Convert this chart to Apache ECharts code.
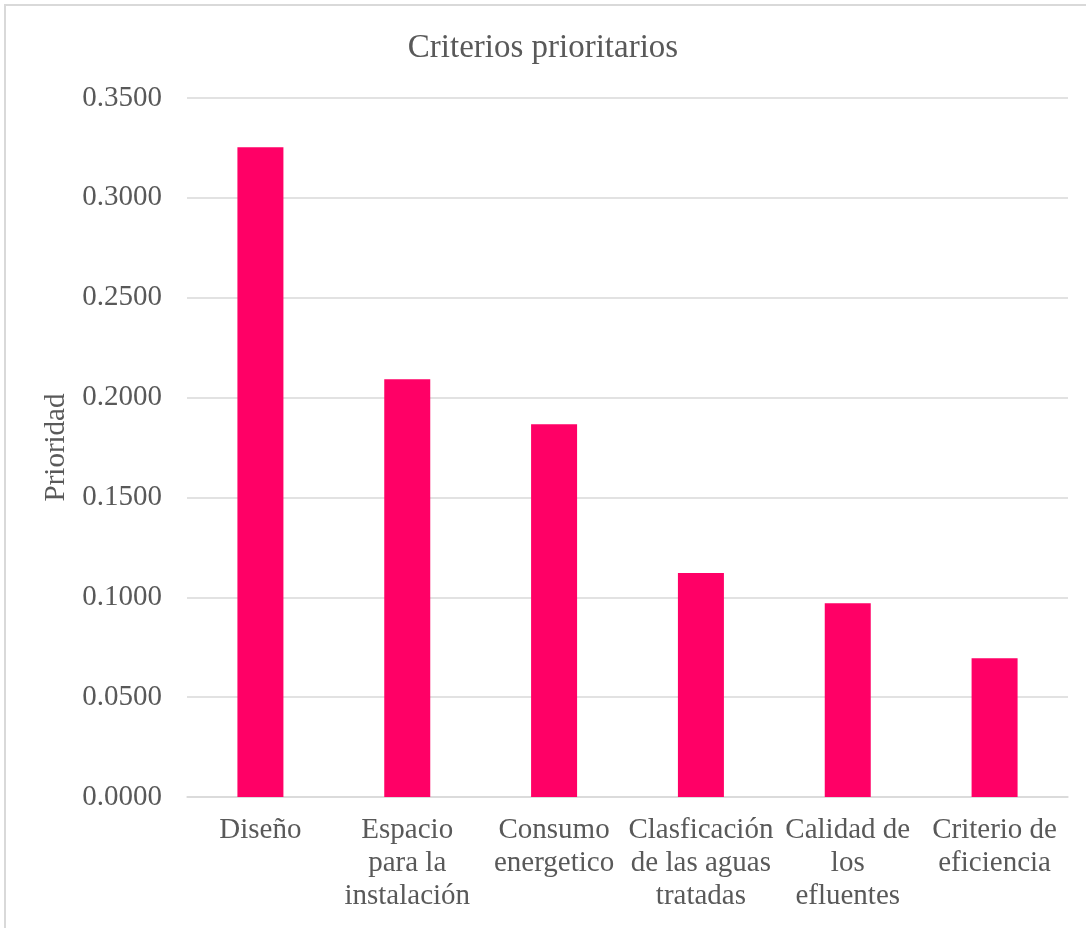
<!DOCTYPE html>
<html>
<head>
<meta charset="utf-8">
<script src="https://cdn.jsdelivr.net/npm/echarts@6/dist/echarts.min.js"></script>
<style>
  html, body { margin: 0; padding: 0; background: #fff; }
  #main { width: 1086px; height: 928px; }
</style>
</head>
<body>
<div id="main"></div>
<script>
    // valores
    var criterios = [
        'Diseño',
        'Espacio\npara la\ninstalación',
        'Consumo\nenergetico',
        'Clasficación\nde las aguas\ntratadas',
        'Calidad de\nlos\nefluentes',
        'Criterio de\neficiencia'
    ];
    var prioridad = [0.3253, 0.2092, 0.1866, 0.1122, 0.0970, 0.0695];
    var yTicks = [0, 0.05, 0.1, 0.15, 0.2, 0.25, 0.3, 0.35];

    var serif = '"Liberation Serif", "DejaVu Serif", serif';
    var textColor = '#595959';

    var chart = echarts.init(document.getElementById('main'));

    var option = {
        backgroundColor: '#fff',
        animation: false,
        title: {
            text: 'Criterios prioritarios',
            left: 'center',
            top: 27,
            textStyle: {
                fontFamily: serif,
                fontSize: 33,
                fontWeight: 'normal',
                color: textColor
            }
        },
        graphic: [{
            type: 'rect',
            shape: { x: 5, y: 5, width: 1200, height: 1000 },
            style: { fill: 'none', stroke: '#d9d9d9', lineWidth: 2 },
            silent: true
        }],
        grid: {
            left: 187,
            right: 18,
            top: 98,
            bottom: 131
        },
        xAxis: {
            type: 'category',
            data: criterios,
            axisLine: { lineStyle: { color: '#d9d9d9', width: 1.5 } },
            axisTick: { show: false },
            axisLabel: {
                interval: 0,
                margin: 17,
                fontFamily: serif,
                fontSize: 29,
                lineHeight: 33,
                color: textColor
            }
        },
        yAxis: {
            type: 'value',
            min: yTicks[0],
            max: yTicks[yTicks.length - 1],
            interval: 0.05,
            name: 'Prioridad',
            nameLocation: 'middle',
            nameGap: 116,
            nameTextStyle: {
                fontFamily: serif,
                fontSize: 29,
                color: textColor
            },
            axisLine: { show: false },
            axisTick: { show: false },
            splitLine: { lineStyle: { color: '#d9d9d9', width: 1.5 } },
            axisLabel: {
                margin: 25,
                fontFamily: serif,
                fontSize: 29,
                color: textColor,
                formatter: function (v) { return v.toFixed(4); }
            }
        },
        series: [{
            type: 'bar',
            data: prioridad,
            barWidth: 46,
            itemStyle: { color: '#FF0066' }
        }]
    };

    chart.setOption(option);
</script>
</body>
</html>
